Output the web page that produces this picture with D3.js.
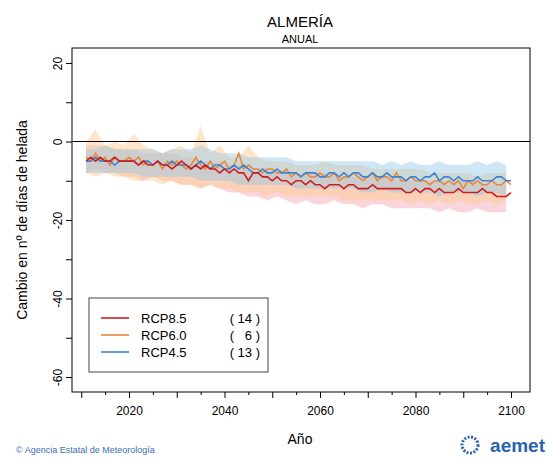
<!DOCTYPE html>
<html><head><meta charset="utf-8">
<script src="https://cdn.jsdelivr.net/npm/d3@7"></script>
<style>body{margin:0;background:#fff}svg{font-family:"Liberation Sans",Arial,sans-serif}</style>
</head><body><svg width="550" height="462"></svg>
<script>
const years = d3.range(2011, 2101);
const bandYears = d3.range(2011, 2100, 2);

const rcp85 = [-5,-4,-5,-4,-5,-5,-4,-5,-5,-5, -5,-6,-5,-6,-6,-5,-6,-6,-7,-6, -5,-6,-7,-6,-7,-6,-7,-7,-8,-7,
  -8,-7,-8,-8,-10,-8,-8,-9,-9,-10, -9,-10,-10,-11,-10,-10,-11,-10,-11,-11, -12,-11,-11,-11,-12,-11,-11,-12,-12,-12,
  -11,-12,-12,-12,-12,-12,-12,-13,-13,-12, -13,-12,-12,-13,-12,-13,-13,-13,-12,-13, -13,-13,-13,-12,-13,-13,-14,-14,-14,-13];
const rcp60 = [-4,-5,-3,-5,-4,-6,-4,-5,-5,-4, -5,-4,-6,-5,-6,-5,-7,-5,-6,-5, -6,-7,-6,-4,-6,-7,-5,-7,-6,-5,
  -7,-6,-3,-7,-6,-7,-7,-8,-7,-7, -8,-8,-7,-9,-8,-9,-8,-9,-9,-8, -9,-9,-8,-10,-9,-9,-8,-9,-10,-9,
  -8,-10,-9,-9,-10,-8,-10,-10,-9,-10, -10,-10,-11,-10,-10,-11,-10,-11,-10,-12, -10,-11,-10,-11,-11,-10,-11,-11,-10,-11];
const rcp45 = [-5,-5,-4,-5,-5,-5,-6,-5,-5,-5, -5,-6,-5,-5,-6,-5,-6,-6,-5,-6, -6,-6,-7,-6,-5,-6,-7,-6,-6,-7,
  -7,-6,-7,-6,-7,-8,-8,-7,-8,-8, -7,-8,-8,-8,-8,-9,-8,-8,-8,-9, -9,-8,-8,-9,-8,-9,-8,-8,-9,-9,
  -8,-9,-9,-8,-9,-9,-9,-10,-9,-9, -10,-9,-9,-8,-10,-9,-9,-10,-9,-10, -10,-10,-9,-10,-10,-10,-9,-9,-10,-10];

const hi85 = [-1,-1,-1,-2,-2,-2,-3,-3,-3,-3,-4,-4,-5,-5,-5,-6,-6,-7,-7,-7,-7,-8,-8,-8,-8,-8,-9,-9,-9,-9,-9,-9,-9,-10,-10,-10,-10,-10,-10,-10,-10,-10,-11,-11,-11];
const lo85 = [-8,-7,-8,-8,-9,-9,-10,-9,-10,-10,-11,-11,-12,-11,-12,-13,-13,-14,-14,-15,-14,-15,-16,-15,-16,-16,-15,-16,-16,-17,-16,-16,-17,-17,-17,-17,-17,-18,-17,-18,-18,-17,-18,-18,-18];
const hi60 = [0,3,-1,0,-1,2,-1,-2,-3,-2,-1,-3,4,-3,-1,-4,-4,-1,-4,-5,-5,-5,-6,-6,-6,-5,-6,-6,-6,-6,-7,-7,-7,-7,-7,-7,-8,-8,-8,-8,-8,-9,-8,-8,-8];
const lo60 = [-8,-9,-8,-9,-9,-10,-10,-10,-11,-10,-11,-11,-12,-11,-12,-12,-13,-13,-13,-14,-13,-14,-14,-14,-14,-14,-14,-15,-15,-15,-15,-15,-15,-15,-16,-15,-16,-15,-16,-15,-16,-16,-15,-16,-15];
const hi45 = [-2,-2,-1,-2,-2,-2,-2,-2,-3,-2,-2,-2,-1,-2,-3,-3,-3,-4,-4,-4,-4,-4,-5,-5,-5,-5,-5,-5,-5,-5,-5,-6,-5,-6,-5,-6,-6,-5,-6,-6,-6,-5,-6,-5,-6];
const lo45 = [-8,-8,-8,-8,-8,-8,-9,-9,-9,-9,-9,-9,-10,-10,-10,-10,-11,-11,-11,-11,-11,-11,-12,-12,-12,-12,-12,-12,-12,-13,-13,-12,-13,-13,-13,-13,-13,-14,-13,-13,-13,-14,-13,-13,-14];

const series = [
  {name: "RCP8.5", n: "( 14 )", vals: rcp85, hi: hi85, lo: lo85, line: "#cc2020", band: "#f7a1b3"},
  {name: "RCP6.0", n: "(   6 )", vals: rcp60, hi: hi60, lo: lo60, line: "#e68a3c", band: "#fdc78a"},
  {name: "RCP4.5", n: "( 13 )", vals: rcp45, hi: hi45, lo: lo45, line: "#3f84d4", band: "#94c8e6"},
];

const svg = d3.select("svg");
const L = 72, R = 530, T = 48, B = 392;
const x = d3.scaleLinear().domain([2020, 2100]).range([129, 511]);
const y = d3.scaleLinear().domain([20, -60]).range([63, 377]);

// bands first, then lines
const area = d3.area().x(d => x(d[0])).y0(d => y(d[1])).y1(d => y(d[2]));
[series[0], series[1], series[2]].forEach(s => {
  svg.append("path")
    .attr("d", area(bandYears.map((yr, i) => [yr, s.lo[i], s.hi[i]])))
    .attr("fill", s.band).attr("fill-opacity", 0.45);
});

svg.append("line").attr("x1", L).attr("x2", R).attr("y1", y(0)).attr("y2", y(0))
  .attr("stroke", "#000").attr("stroke-width", 1);

const line = d3.line().x((d, i) => x(years[i])).y(d => y(d));
[series[1], series[2], series[0]].forEach(s => {
  svg.append("path").attr("d", line(s.vals)).attr("fill", "none")
    .attr("stroke", s.line).attr("stroke-width", 1.6);
});

// frame
svg.append("rect").attr("x", L).attr("y", T).attr("width", R - L).attr("height", B - T)
  .attr("fill", "none").attr("stroke", "#000").attr("stroke-width", 1);

// y axis
const ya = svg.append("g").attr("transform", `translate(${L},0)`)
  .call(d3.axisLeft(y).tickValues(d3.range(-60, 21, 10)).tickSize(6).tickFormat(d => d % 20 === 0 ? d : ""));
ya.select(".domain").remove();
ya.selectAll("text").attr("font-size", 12).attr("transform", "rotate(-90)").attr("x", 0).attr("dy", 0)
  .attr("y", -10).attr("text-anchor", "middle");

// x axis
const xa = svg.append("g").attr("transform", `translate(0,${B})`)
  .call(d3.axisBottom(x).tickValues(d3.range(2010, 2101, 10)).tickSize(6).tickFormat(d => d % 20 === 0 ? d : ""));
xa.select(".domain").remove();
xa.selectAll("text").attr("font-size", 12).attr("dy", "1.2em");
svg.append("g").attr("transform", `translate(0,${B})`)
  .call(d3.axisBottom(x).tickValues(d3.range(2015, 2100, 10)).tickSize(3).tickFormat(""))
  .select(".domain").remove();

// titles
svg.append("text").attr("x", 300).attr("y", 27).attr("text-anchor", "middle").attr("font-size", 15).text("ALMERÍA");
svg.append("text").attr("x", 300).attr("y", 43).attr("text-anchor", "middle").attr("font-size", 11).text("ANUAL");
svg.append("text").attr("transform", "translate(27,220) rotate(-90)").attr("text-anchor", "middle")
  .attr("font-size", 14).text("Cambio en nº de días de helada");
svg.append("text").attr("x", 300).attr("y", 444).attr("text-anchor", "middle").attr("font-size", 14).text("Año");

// legend
const lg = svg.append("g");
lg.append("rect").attr("x", 89).attr("y", 298).attr("width", 179).attr("height", 74)
  .attr("fill", "#fff").attr("stroke", "#444");
series.forEach((s, i) => {
  const yy = 318 + i * 17;
  lg.append("line").attr("x1", 101).attr("x2", 129).attr("y1", yy).attr("y2", yy)
    .attr("stroke", s.line).attr("stroke-width", 1.6);
  lg.append("text").attr("x", 141).attr("y", yy + 5).attr("font-size", 13).text(s.name);
  lg.append("text").attr("x", 260).attr("y", yy + 5).attr("font-size", 13).attr("text-anchor", "end")
    .attr("xml:space", "preserve").style("white-space", "pre").text(s.n);
});

// footer
svg.append("text").attr("x", 16).attr("y", 453).attr("font-size", 9).attr("fill", "#3a6fb5")
  .text("© Agencia Estatal de Meteorología");
svg.append("text").attr("x", 545).attr("y", 452).attr("text-anchor", "end").attr("font-size", 19)
  .attr("font-weight", "bold").attr("fill", "#2a64b0").text("aemet");
svg.append("circle").attr("cx", 470).attr("cy", 445).attr("r", 8).attr("fill", "none")
  .attr("stroke", "#2a64b0").attr("stroke-width", 3).attr("stroke-dasharray", "2 1.5");
</script></body></html>
